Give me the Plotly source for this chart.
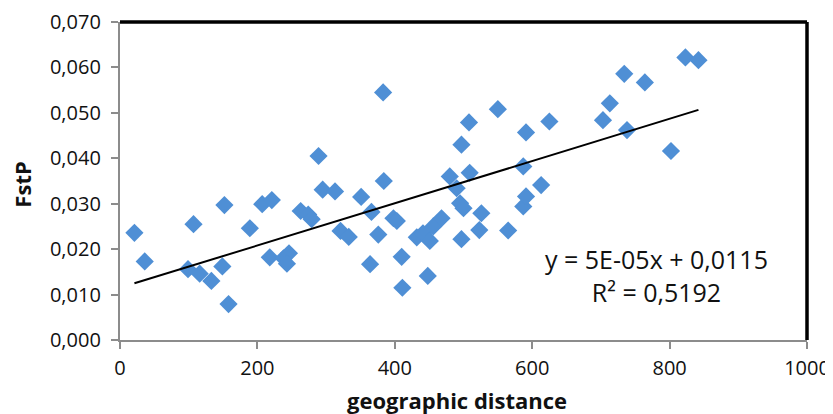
import plotly.graph_objects as go

# geographic distance (x) and FstP (y)
distance = [21, 36, 99, 107, 116, 133, 149, 152, 158, 189, 207, 221, 218, 238, 246, 243,
            263, 274, 279, 289, 295, 313, 321, 333, 351, 366, 364, 376, 383, 384, 398, 403,
            410, 411, 432, 441, 448, 451, 456, 468, 480, 490, 497, 495, 500, 497, 508, 509,
            523, 526, 550, 565, 587, 591, 587, 591, 613, 625, 703, 713, 734, 738, 764, 802,
            823, 842]
fstp = [0.0236, 0.0173, 0.0156, 0.0255, 0.0146, 0.0130, 0.0162, 0.0297, 0.0079, 0.0246,
        0.0299, 0.0308, 0.0182, 0.0180, 0.0191, 0.0168, 0.0284, 0.0276, 0.0266, 0.0405,
        0.0331, 0.0327, 0.0240, 0.0227, 0.0315, 0.0282, 0.0167, 0.0232, 0.0545, 0.0350,
        0.0268, 0.0262, 0.0183, 0.0115, 0.0226, 0.0235, 0.0141, 0.0218, 0.0250, 0.0268,
        0.0360, 0.0334, 0.0430, 0.0301, 0.0290, 0.0222, 0.0479, 0.0368, 0.0242, 0.0279,
        0.0508, 0.0241, 0.0294, 0.0316, 0.0382, 0.0457, 0.0341, 0.0481, 0.0484, 0.0521,
        0.0586, 0.0462, 0.0567, 0.0416, 0.0622, 0.0616]

trend_slope = 4.65e-5
trend_intercept = 0.0115
equation_text = "y = 5E-05x + 0,0115<br>R² = 0,5192"

x_title = "geographic distance"
y_title = "FstP"

trend_x = [min(distance), max(distance)]
trend_y = [trend_intercept + trend_slope * v for v in trend_x]

fig = go.Figure()
fig.add_trace(go.Scatter(
    x=distance, y=fstp, mode="markers",
    marker=dict(symbol="diamond", size=14, color="#4F8FD5", line=dict(width=0)),
    showlegend=False, hoverinfo="x+y"))
fig.add_trace(go.Scatter(
    x=trend_x, y=trend_y, mode="lines",
    line=dict(color="black", width=2), showlegend=False, hoverinfo="skip"))

fig.add_annotation(x=781, y=0.0142, xref="x", yref="y", text=equation_text,
                   showarrow=False, align="center",
                   font=dict(family="Open Sans", size=25, color="#111111"))

# axis titles
fig.add_annotation(x=0.49, y=-0.19, xref="paper", yref="paper", text="<b>" + x_title + "</b>",
                   showarrow=False, xanchor="center", yanchor="middle",
                   font=dict(family="Open Sans", size=22, color="#111111"))
fig.add_annotation(x=-0.142, y=0.49, xref="paper", yref="paper", text="<b>" + y_title + "</b>",
                   showarrow=False, xanchor="center", yanchor="middle", textangle=-90,
                   font=dict(family="Open Sans", size=22, color="#111111"))

# top and right black frame lines
fig.add_shape(type="line", xref="paper", yref="paper", x0=0, x1=1, y0=1, y1=1,
              line=dict(color="black", width=3.5))
fig.add_shape(type="line", xref="paper", yref="paper", x0=1, x1=1, y0=0, y1=1,
              line=dict(color="black", width=3.5))

axis_common = dict(showgrid=False, zeroline=False, showline=True, linecolor="#8C8C8C",
                   linewidth=2.3, ticks="outside", ticklen=7, tickwidth=2,
                   tickcolor="#8C8C8C", automargin=False,
                   tickfont=dict(family="Open Sans", size=20, color="#111111"))

# page body adds an 8px offset, so the figure is 8px smaller and margins shifted
fig.update_layout(
    width=825, height=406,
    margin=dict(l=112, r=26, t=14, b=74),
    paper_bgcolor="white", plot_bgcolor="white",
    separators=", ",
    xaxis=dict(range=[0, 1000], dtick=200, tick0=0, ticklabelstandoff=2, **axis_common),
    yaxis=dict(range=[0, 0.07], dtick=0.01, tick0=0, tickformat=".3f",
               ticklabelstandoff=6, **axis_common),
)

fig.write_html("out.html")
